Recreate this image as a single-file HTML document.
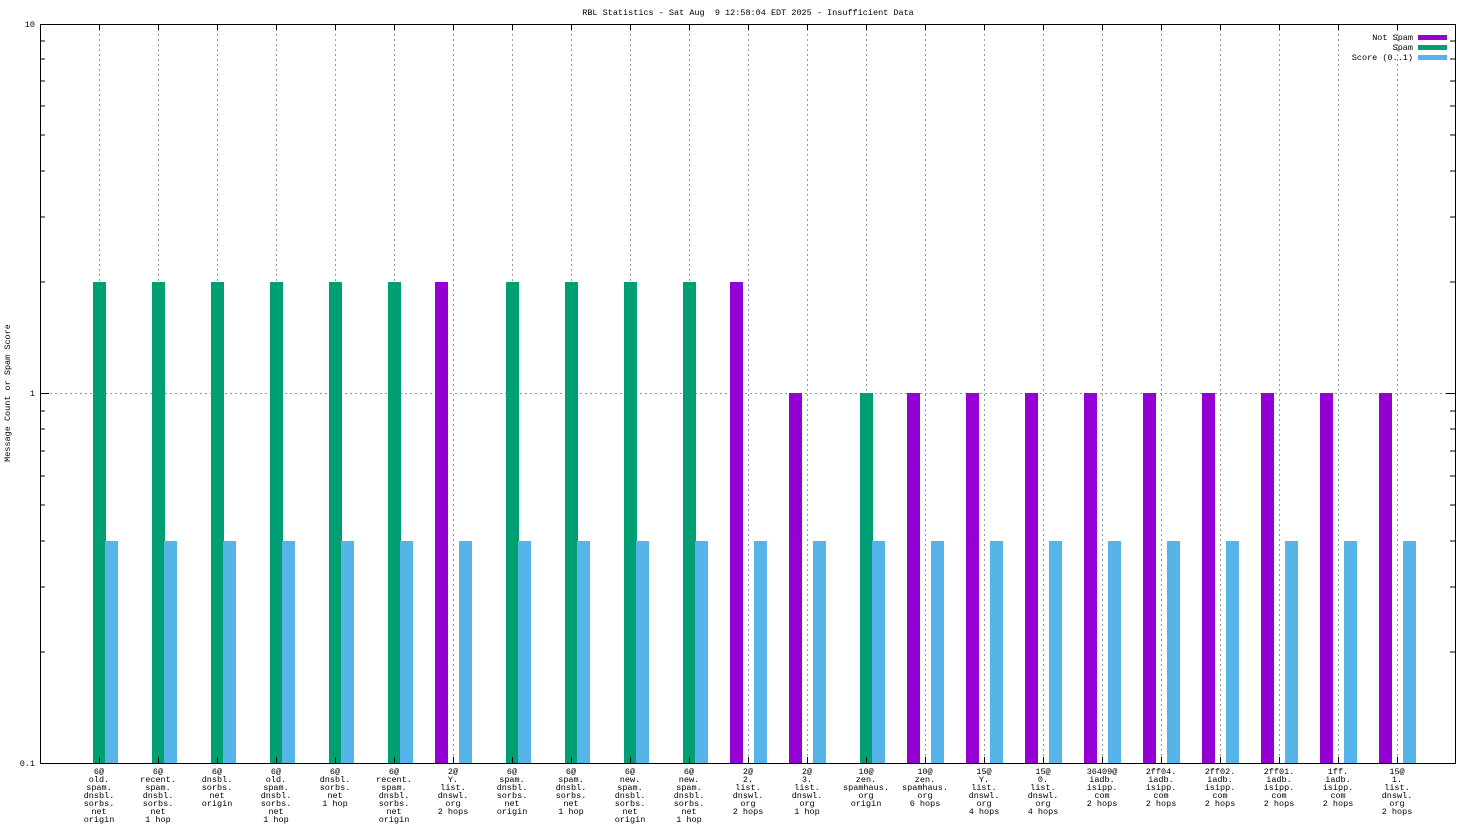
<!DOCTYPE html>
<html><head><meta charset="utf-8"><style>
html,body{margin:0;padding:0;background:#fff;}
svg{display:block;font-family:"Liberation Mono","DejaVu Sans Mono",monospace;font-size:8.5px;}
</style></head><body>
<svg width="1472" height="828" viewBox="0 0 1472 828" xmlns="http://www.w3.org/2000/svg">
<rect width="1472" height="828" fill="#fff"/>
<text x="748" y="15" text-anchor="middle">RBL Statistics - Sat Aug &#160;9 12:58:04 EDT 2025 - Insufficient Data</text>
<text transform="translate(10,393) rotate(-90)" text-anchor="middle">Message Count or Spam Score</text>
<g stroke="#999" stroke-dasharray="2,3" stroke-width="1">
<line x1="40" y1="393.5" x2="1455" y2="393.5"/>
<path d="M99.5 24V763M158.5 24V763M217.5 24V763M276.5 24V763M335.5 24V763M394.5 24V763M453.5 24V763M512.5 24V763M571.5 24V763M630.5 24V763M689.5 24V763M748.5 24V763M807.5 24V763M866.5 24V763M925.5 24V763M984.5 24V763M1043.5 24V763M1102.5 24V763M1161.5 24V763M1220.5 24V763M1279.5 24V763M1338.5 24V763M1397.5 24V763"/>
</g>
<text x="1413" y="40" text-anchor="end">Not Spam</text>
<text x="1413" y="50" text-anchor="end">Spam</text>
<text x="1413" y="60" text-anchor="end">Score (0..1)</text>
<rect x="1418" y="35" width="29" height="5" fill="#9400d3"/>
<rect x="1418" y="45" width="29" height="5" fill="#009e73"/>
<rect x="1418" y="55" width="29" height="5" fill="#56b4e9"/>
<g fill="#009e73">
<rect x="93" y="282" width="13" height="481"/><rect x="152" y="282" width="13" height="481"/><rect x="211" y="282" width="13" height="481"/><rect x="270" y="282" width="13" height="481"/><rect x="329" y="282" width="13" height="481"/><rect x="388" y="282" width="13" height="481"/>
<rect x="506" y="282" width="13" height="481"/><rect x="565" y="282" width="13" height="481"/><rect x="624" y="282" width="13" height="481"/><rect x="683" y="282" width="13" height="481"/>
<rect x="860" y="393" width="13" height="370"/>
</g>
<g fill="#9400d3">
<rect x="435" y="282" width="13" height="481"/><rect x="730" y="282" width="13" height="481"/>
<rect x="789" y="393" width="13" height="370"/><rect x="907" y="393" width="13" height="370"/><rect x="966" y="393" width="13" height="370"/><rect x="1025" y="393" width="13" height="370"/><rect x="1084" y="393" width="13" height="370"/><rect x="1143" y="393" width="13" height="370"/><rect x="1202" y="393" width="13" height="370"/><rect x="1261" y="393" width="13" height="370"/><rect x="1320" y="393" width="13" height="370"/><rect x="1379" y="393" width="13" height="370"/>
</g>
<g fill="#56b4e9">
<rect x="105" y="541" width="13" height="222"/><rect x="164" y="541" width="13" height="222"/><rect x="223" y="541" width="13" height="222"/><rect x="282" y="541" width="13" height="222"/><rect x="341" y="541" width="13" height="222"/><rect x="400" y="541" width="13" height="222"/><rect x="459" y="541" width="13" height="222"/><rect x="518" y="541" width="13" height="222"/><rect x="577" y="541" width="13" height="222"/><rect x="636" y="541" width="13" height="222"/><rect x="695" y="541" width="13" height="222"/><rect x="754" y="541" width="13" height="222"/><rect x="813" y="541" width="13" height="222"/><rect x="872" y="541" width="13" height="222"/><rect x="931" y="541" width="13" height="222"/><rect x="990" y="541" width="13" height="222"/><rect x="1049" y="541" width="13" height="222"/><rect x="1108" y="541" width="13" height="222"/><rect x="1167" y="541" width="13" height="222"/><rect x="1226" y="541" width="13" height="222"/><rect x="1285" y="541" width="13" height="222"/><rect x="1344" y="541" width="13" height="222"/><rect x="1403" y="541" width="13" height="222"/>
</g>
<rect x="40.5" y="24.5" width="1415" height="739" fill="none" stroke="#000"/>
<g stroke="#000">
<path d="M40 393.5h9M1455 393.5h-9M40 24.5h9M1455 24.5h-9M40 763.5h9M1455 763.5h-9"/>
<path d="M40 652h5M40 587h5M40 541h5M40 505h5M40 476h5M40 451h5M40 429h5M40 411h5M40 282h5M40 217h5M40 171h5M40 135h5M40 106h5M40 81h5M40 59h5M40 41h5"/>
<path d="M1455 652h-5M1455 587h-5M1455 541h-5M1455 505h-5M1455 476h-5M1455 451h-5M1455 429h-5M1455 411h-5M1455 282h-5M1455 217h-5M1455 171h-5M1455 135h-5M1455 106h-5M1455 81h-5M1455 59h-5M1455 41h-5"/>
<path d="M99.5 763v-6M158.5 763v-6M217.5 763v-6M276.5 763v-6M335.5 763v-6M394.5 763v-6M453.5 763v-6M512.5 763v-6M571.5 763v-6M630.5 763v-6M689.5 763v-6M748.5 763v-6M807.5 763v-6M866.5 763v-6M925.5 763v-6M984.5 763v-6M1043.5 763v-6M1102.5 763v-6M1161.5 763v-6M1220.5 763v-6M1279.5 763v-6M1338.5 763v-6M1397.5 763v-6"/>
<path d="M99.5 24v6M158.5 24v6M217.5 24v6M276.5 24v6M335.5 24v6M394.5 24v6M453.5 24v6M512.5 24v6M571.5 24v6M630.5 24v6M689.5 24v6M748.5 24v6M807.5 24v6M866.5 24v6M925.5 24v6M984.5 24v6M1043.5 24v6M1102.5 24v6M1161.5 24v6M1220.5 24v6M1279.5 24v6M1338.5 24v6M1397.5 24v6"/>
</g>
<text x="35" y="27" text-anchor="end">10</text>
<text x="35" y="396" text-anchor="end">1</text>
<text x="35" y="766" text-anchor="end">0.1</text>
<g text-anchor="middle">
<text y="774"><tspan x="99">6@</tspan><tspan x="99" dy="8">old.</tspan><tspan x="99" dy="8">spam.</tspan><tspan x="99" dy="8">dnsbl.</tspan><tspan x="99" dy="8">sorbs.</tspan><tspan x="99" dy="8">net</tspan><tspan x="99" dy="8">origin</tspan></text>
<text y="774"><tspan x="158">6@</tspan><tspan x="158" dy="8">recent.</tspan><tspan x="158" dy="8">spam.</tspan><tspan x="158" dy="8">dnsbl.</tspan><tspan x="158" dy="8">sorbs.</tspan><tspan x="158" dy="8">net</tspan><tspan x="158" dy="8">1 hop</tspan></text>
<text y="774"><tspan x="217">6@</tspan><tspan x="217" dy="8">dnsbl.</tspan><tspan x="217" dy="8">sorbs.</tspan><tspan x="217" dy="8">net</tspan><tspan x="217" dy="8">origin</tspan></text>
<text y="774"><tspan x="276">6@</tspan><tspan x="276" dy="8">old.</tspan><tspan x="276" dy="8">spam.</tspan><tspan x="276" dy="8">dnsbl.</tspan><tspan x="276" dy="8">sorbs.</tspan><tspan x="276" dy="8">net</tspan><tspan x="276" dy="8">1 hop</tspan></text>
<text y="774"><tspan x="335">6@</tspan><tspan x="335" dy="8">dnsbl.</tspan><tspan x="335" dy="8">sorbs.</tspan><tspan x="335" dy="8">net</tspan><tspan x="335" dy="8">1 hop</tspan></text>
<text y="774"><tspan x="394">6@</tspan><tspan x="394" dy="8">recent.</tspan><tspan x="394" dy="8">spam.</tspan><tspan x="394" dy="8">dnsbl.</tspan><tspan x="394" dy="8">sorbs.</tspan><tspan x="394" dy="8">net</tspan><tspan x="394" dy="8">origin</tspan></text>
<text y="774"><tspan x="453">2@</tspan><tspan x="453" dy="8">Y.</tspan><tspan x="453" dy="8">list.</tspan><tspan x="453" dy="8">dnswl.</tspan><tspan x="453" dy="8">org</tspan><tspan x="453" dy="8">2 hops</tspan></text>
<text y="774"><tspan x="512">6@</tspan><tspan x="512" dy="8">spam.</tspan><tspan x="512" dy="8">dnsbl.</tspan><tspan x="512" dy="8">sorbs.</tspan><tspan x="512" dy="8">net</tspan><tspan x="512" dy="8">origin</tspan></text>
<text y="774"><tspan x="571">6@</tspan><tspan x="571" dy="8">spam.</tspan><tspan x="571" dy="8">dnsbl.</tspan><tspan x="571" dy="8">sorbs.</tspan><tspan x="571" dy="8">net</tspan><tspan x="571" dy="8">1 hop</tspan></text>
<text y="774"><tspan x="630">6@</tspan><tspan x="630" dy="8">new.</tspan><tspan x="630" dy="8">spam.</tspan><tspan x="630" dy="8">dnsbl.</tspan><tspan x="630" dy="8">sorbs.</tspan><tspan x="630" dy="8">net</tspan><tspan x="630" dy="8">origin</tspan></text>
<text y="774"><tspan x="689">6@</tspan><tspan x="689" dy="8">new.</tspan><tspan x="689" dy="8">spam.</tspan><tspan x="689" dy="8">dnsbl.</tspan><tspan x="689" dy="8">sorbs.</tspan><tspan x="689" dy="8">net</tspan><tspan x="689" dy="8">1 hop</tspan></text>
<text y="774"><tspan x="748">2@</tspan><tspan x="748" dy="8">2.</tspan><tspan x="748" dy="8">list.</tspan><tspan x="748" dy="8">dnswl.</tspan><tspan x="748" dy="8">org</tspan><tspan x="748" dy="8">2 hops</tspan></text>
<text y="774"><tspan x="807">2@</tspan><tspan x="807" dy="8">3.</tspan><tspan x="807" dy="8">list.</tspan><tspan x="807" dy="8">dnswl.</tspan><tspan x="807" dy="8">org</tspan><tspan x="807" dy="8">1 hop</tspan></text>
<text y="774"><tspan x="866">10@</tspan><tspan x="866" dy="8">zen.</tspan><tspan x="866" dy="8">spamhaus.</tspan><tspan x="866" dy="8">org</tspan><tspan x="866" dy="8">origin</tspan></text>
<text y="774"><tspan x="925">10@</tspan><tspan x="925" dy="8">zen.</tspan><tspan x="925" dy="8">spamhaus.</tspan><tspan x="925" dy="8">org</tspan><tspan x="925" dy="8">6 hops</tspan></text>
<text y="774"><tspan x="984">15@</tspan><tspan x="984" dy="8">Y.</tspan><tspan x="984" dy="8">list.</tspan><tspan x="984" dy="8">dnswl.</tspan><tspan x="984" dy="8">org</tspan><tspan x="984" dy="8">4 hops</tspan></text>
<text y="774"><tspan x="1043">15@</tspan><tspan x="1043" dy="8">0.</tspan><tspan x="1043" dy="8">list.</tspan><tspan x="1043" dy="8">dnswl.</tspan><tspan x="1043" dy="8">org</tspan><tspan x="1043" dy="8">4 hops</tspan></text>
<text y="774"><tspan x="1102">36409@</tspan><tspan x="1102" dy="8">iadb.</tspan><tspan x="1102" dy="8">isipp.</tspan><tspan x="1102" dy="8">com</tspan><tspan x="1102" dy="8">2 hops</tspan></text>
<text y="774"><tspan x="1161">2ff04.</tspan><tspan x="1161" dy="8">iadb.</tspan><tspan x="1161" dy="8">isipp.</tspan><tspan x="1161" dy="8">com</tspan><tspan x="1161" dy="8">2 hops</tspan></text>
<text y="774"><tspan x="1220">2ff02.</tspan><tspan x="1220" dy="8">iadb.</tspan><tspan x="1220" dy="8">isipp.</tspan><tspan x="1220" dy="8">com</tspan><tspan x="1220" dy="8">2 hops</tspan></text>
<text y="774"><tspan x="1279">2ff01.</tspan><tspan x="1279" dy="8">iadb.</tspan><tspan x="1279" dy="8">isipp.</tspan><tspan x="1279" dy="8">com</tspan><tspan x="1279" dy="8">2 hops</tspan></text>
<text y="774"><tspan x="1338">1ff.</tspan><tspan x="1338" dy="8">iadb.</tspan><tspan x="1338" dy="8">isipp.</tspan><tspan x="1338" dy="8">com</tspan><tspan x="1338" dy="8">2 hops</tspan></text>
<text y="774"><tspan x="1397">15@</tspan><tspan x="1397" dy="8">1.</tspan><tspan x="1397" dy="8">list.</tspan><tspan x="1397" dy="8">dnswl.</tspan><tspan x="1397" dy="8">org</tspan><tspan x="1397" dy="8">2 hops</tspan></text>
</g>
</svg>
</body></html>
